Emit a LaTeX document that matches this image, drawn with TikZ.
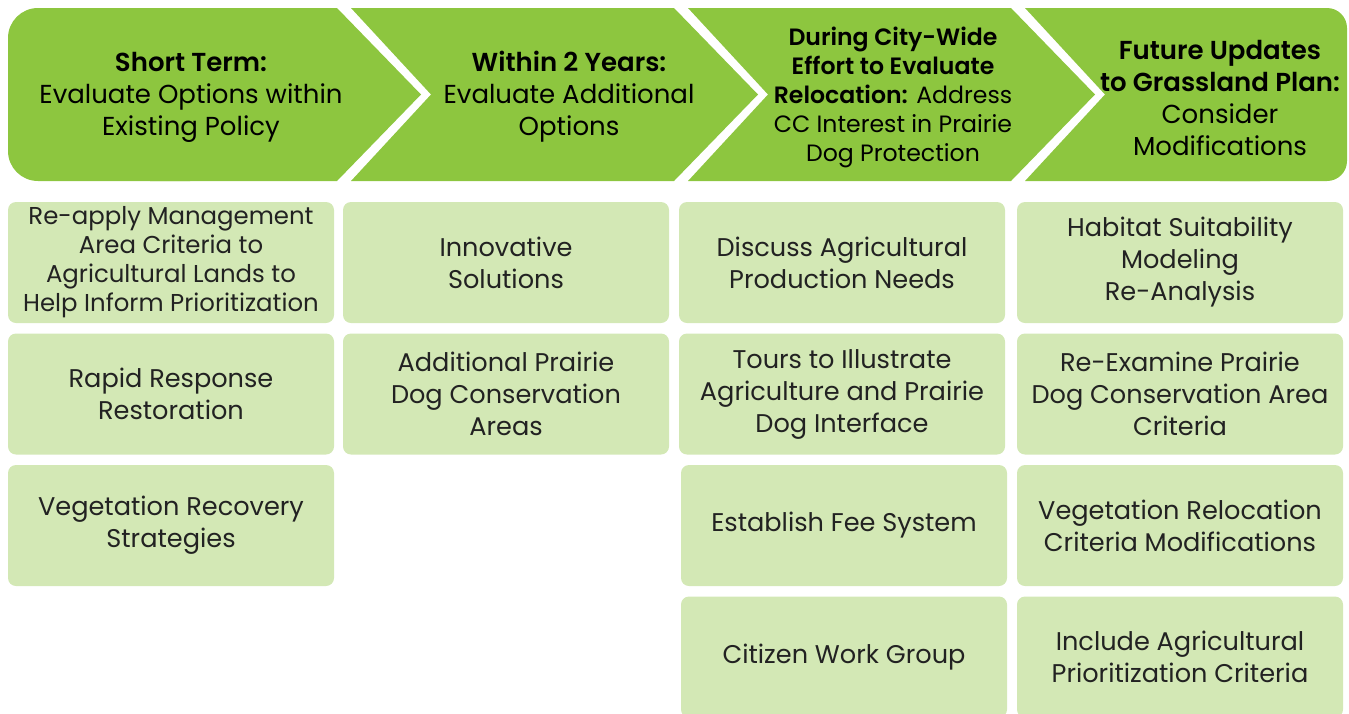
\documentclass[tikz,border=0pt]{standalone}
\usepackage{fontspec}
\IfFontExistsTF{Poppins SemiBold}
  {\setmainfont{Poppins}[BoldFont={Poppins SemiBold}]}
  {\setmainfont{Poppins}}
\usetikzlibrary{positioning}
\definecolor{leaf}{RGB}{141,198,63}
\definecolor{sprout}{RGB}{211,232,181}
\definecolor{soil}{RGB}{34,34,34}
\tikzset{
  stage/.style={fill=leaf},
  stage text/.style={align=center,text=black,inner sep=0pt,
    font=\fontsize{13}{16}\selectfont},
  task/.style={fill=sprout,rounded corners=4pt,minimum width=163pt,
    minimum height=60.5pt,align=center,inner sep=0pt,text=soil,
    font=\fontsize{12.8}{16}\selectfont},
}

\begin{document}
\begin{tikzpicture}[x=0.5pt,y=-0.5pt]
  \useasboundingbox (0,0) rectangle (1349,713);
  \clip (0,0) rectangle (1349,713);

  % header chevrons
  \fill[stage,rounded corners=15pt] (8,8) rectangle (220,181);
  \fill[stage] (150,8) -- (337,8) -- (421,94.5) -- (337,181) -- (150,181) -- cycle;
  \fill[stage] (351,8) -- (674,8) -- (758,94.5) -- (674,181) -- (351,181) -- (431,94.5) -- cycle;
  \fill[stage] (688,8) -- (1011,8) -- (1095,94.5) -- (1011,181) -- (688,181) -- (768,94.5) -- cycle;
  \fill[stage] (1025,8) -- (1260,8) -- (1260,181) -- (1025,181) -- (1105,94.5) -- cycle;
  \fill[stage,rounded corners=10pt] (1200,8) rectangle (1347,181);

  \node[stage text] (hdr1) at (191,97) {\textbf{Short Term:}\\Evaluate Options within\\Existing Policy};
  \node[stage text] (hdr2) at (569,97) {\textbf{Within 2 Years:}\\Evaluate Additional\\Options};
  \node[stage text,font=\fontsize{11.8}{14.5}\selectfont] (hdr3) at (893,97)
    {\textbf{During City-Wide}\\\textbf{Effort to Evaluate}\\\textbf{Relocation:} Address\\CC Interest in Prairie\\Dog Protection};
  \node[stage text] (hdr4) at (1220,98) {\textbf{Future Updates}\\\textbf{to Grassland Plan:}\\Consider\\Modifications};

  % short term
  \node[task,font=\fontsize{12.2}{14.5}\selectfont] (st1) at (171,262.5)
    {Re-apply Management\\Area Criteria to\\Agricultural Lands to\\Help Inform Prioritization};
  \node[task] (st2) at (171,394) {Rapid Response\\Restoration};
  \node[task] (st3) at (171,525.5) {Vegetation Recovery\\Strategies};

  % within 2 years
  \node[task] (wy1) at (506,262.5) {Innovative\\Solutions};
  \node[task] (wy2) at (506,394) {Additional Prairie\\Dog Conservation\\Areas};

  % city-wide effort
  \node[task] (cw1) at (842,262.5) {Discuss Agricultural\\Production Needs};
  \node[task] (cw2) at (842,394) {Tours to Illustrate\\Agriculture and Prairie\\Dog Interface};
  \node[task] (cw3) at (844,525.5) {Establish Fee System};
  \node[task] (cw4) at (844,657) {Citizen Work Group};

  % grassland plan
  \node[task] (gp1) at (1180,262.5) {Habitat Suitability\\Modeling\\Re-Analysis};
  \node[task] (gp2) at (1180,394) {Re-Examine Prairie\\Dog Conservation Area\\Criteria};
  \node[task] (gp3) at (1180,525.5) {Vegetation Relocation\\Criteria Modifications};
  \node[task] (gp4) at (1180,657) {Include Agricultural\\Prioritization Criteria};
\end{tikzpicture}
\end{document}
